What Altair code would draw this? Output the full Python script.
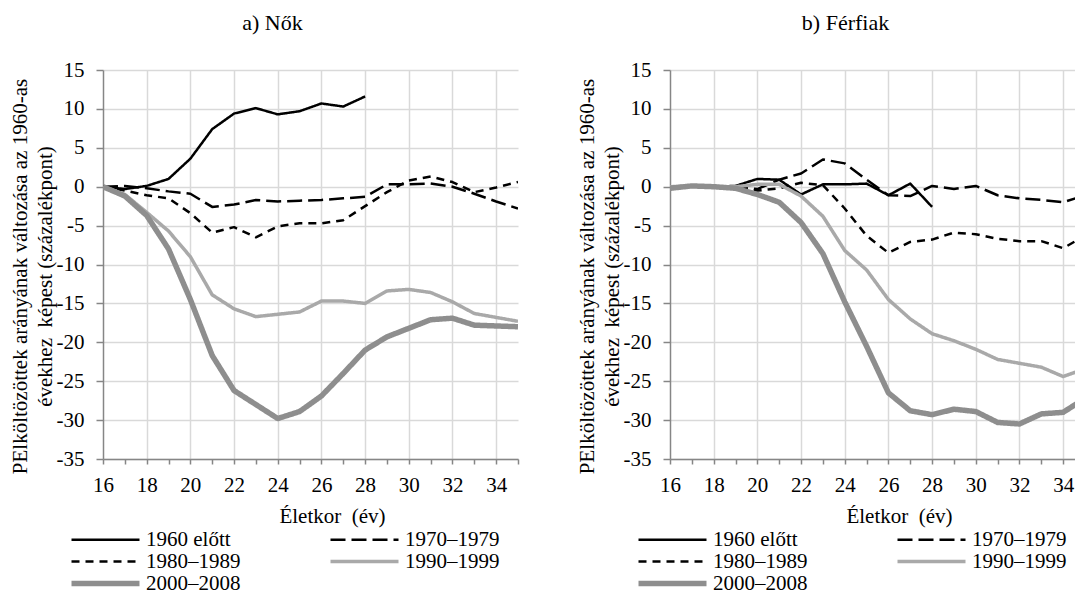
import altair as alt
import pandas as pd

FONT = "Liberation Serif, Times New Roman, DejaVu Serif, serif"

ages = list(range(16, 36))
series = ["1960 előtt", "1970–1979", "1980–1989", "1990–1999", "2000–2008"]
colors = ["#000000", "#000000", "#000000", "#a9a9a9", "#8e8e8e"]
dashes = [[1, 0], [15, 6], [8, 6], [1, 0], [1, 0]]
widths = [2.5, 2.5, 2.5, 3.5, 5.5]

# a) Nők
w1960 = [0, -0.3, 0.1, 1.0, 3.6, 7.4, 9.4, 10.1, 9.3, 9.7, 10.7, 10.3, 11.6,
         None, None, None, None, None, None, None]
w1970 = [0, 0.1, -0.2, -0.6, -0.9, -2.6, -2.3, -1.7, -1.9, -1.8, -1.7, -1.5, -1.3,
         0.3, 0.3, 0.4, 0.0, -0.9, -1.9, -2.8]
w1980 = [0, -0.5, -1.1, -1.5, -3.4, -5.9, -5.2, -6.5, -5.1, -4.7, -4.7, -4.3, -2.5,
         -0.7, 0.8, 1.3, 0.6, -0.7, -0.1, 0.6]
w1990 = [0, -1.0, -3.3, -5.7, -9.0, -13.9, -15.7, -16.7, -16.4, -16.1, -14.7, -14.7,
         -15.0, -13.4, -13.2, -13.6, -14.8, -16.3, -16.8, -17.3]
w2000 = [0, -1.2, -3.7, -8.0, -14.5, -21.7, -26.2, -28.0, -29.8, -28.9, -26.9, -24.0,
         -21.0, -19.3, -18.2, -17.1, -16.9, -17.8, -17.9, -18.0]

# b) Férfiak
m1960 = [0, 0, 0, 0.1, 1.0, 0.9, -1.0, 0.3, 0.3, 0.4, -1.1, 0.4, -2.6,
         None, None, None, None, None, None, None]
m1970 = [0, 0.1, 0, 0, -0.3, 0.9, 1.7, 3.5, 3.0, 0.9, -1.1, -1.2, 0.1,
         -0.3, 0.1, -1.1, -1.5, -1.7, -2.0, -1.1]
m1980 = [0, 0, 0, 0, -0.5, -0.2, 0.5, 0.2, -2.8, -6.3, -8.5, -7.1, -6.8,
         -5.9, -6.1, -6.7, -7.0, -7.0, -7.9, -6.3]
m1990 = [0, 0.1, 0, 0, 0.3, 0.3, -1.2, -3.8, -8.2, -10.7, -14.5, -17.0, -18.9,
         -19.8, -20.9, -22.2, -22.7, -23.2, -24.4, -23.4]
m2000 = [-0.2, 0.1, 0, -0.2, -1.0, -2.0, -4.6, -8.6, -14.8, -20.5, -26.5, -28.8,
         -29.3, -28.6, -28.9, -30.3, -30.5, -29.2, -29.0, -27.2]

x_ticks = list(range(16, 36))
y_ticks = list(range(-35, 20, 5))

y_title = ["PElköltözöttek arányának változása az 1960-as",
           "évekhez\u00a0 képest (százalékpont)" + "\u00a0" * 20]
x_title = "Életkor\u00a0 (év)"


def make_df(cols):
    rows = []
    for name, vals, w in zip(series, cols, widths):
        for a, v in zip(ages, vals):
            if v is not None:
                rows.append({"age": a, "value": v, "series": name, "w": w})
    return pd.DataFrame(rows)


def panel(title, cols, dx):
    df = make_df(cols)
    legend = alt.Legend(
        title=None, orient="none", legendX=-8, legendY=459, columns=2,
        direction="horizontal",
        symbolType="stroke", symbolSize=4624, labelOffset=30,
        columnPadding=82, rowPadding=0, padding=0,
        labelFont=FONT, labelFontSize=21, labelColor="#000000",
        symbolStrokeWidth={"expr": "datum.value == '2000–2008' ? 5.5 : (datum.value == '1990–1999' ? 3.5 : 2.5)"},
    )
    even_grid = "datum.value % 2 == 0 && datum.value > 16 && datum.value < 35"
    return alt.Chart(df).mark_line(strokeJoin="round", clip=True).encode(
        x=alt.X("age:Q",
                scale=alt.Scale(domain=[16, 35], nice=False, zero=False),
                axis=alt.Axis(values=x_ticks, title=x_title, titleX=229,
                              labelExpr="datum.value % 2 == 0 && datum.value < 35 ? '' + datum.value : ''",
                              grid=True,
                              gridColor={"condition": {"test": even_grid, "value": "#d9d9d9"},
                                         "value": "rgba(0,0,0,0)"},
                              tickSize=5, labelPadding=10, titlePadding=10,
                              labelFlush=False, labelOverlap=False)),
        y=alt.Y("value:Q",
                scale=alt.Scale(domain=[-35, 15], nice=False, zero=False),
                axis=alt.Axis(values=y_ticks, title=y_title, titleAngle=270,
                              titleX=-94, titleY=206, titleAlign="center",
                              titleBaseline="top", titleLineHeight=25,
                              labelExpr="'' + datum.value",
                              grid=True, gridColor="#d9d9d9",
                              tickSize=7, labelPadding=12, labelFlush=False)),
        color=alt.Color("series:N", scale=alt.Scale(domain=series, range=colors), legend=legend),
        strokeDash=alt.StrokeDash("series:N", scale=alt.Scale(domain=series, range=dashes), legend=legend),
        strokeWidth=alt.StrokeWidth("w:Q", scale=None, legend=None),
    ).properties(
        width=415, height=389,
        title=alt.TitleParams(title, font=FONT, fontSize=22, fontWeight="normal",
                              color="#000000", anchor="middle", dx=dx, offset=24),
    )


left = panel("a) Nők", [w1960, w1970, w1980, w1990, w2000], -38)
right = panel("b) Férfiak", [m1960, m1970, m1980, m1990, m2000], -32)

# the right panel runs past the page edge in the original; the negative right
# padding crops it there instead of widening the page
chart = alt.hconcat(left, right, spacing=56).resolve_legend(
    color="independent", strokeDash="independent"
).resolve_scale(color="independent", strokeDash="independent").properties(
    padding={"top": 4, "left": 0, "right": -11, "bottom": 0}
).configure_view(stroke=None).configure_axis(
    labelFont=FONT, titleFont=FONT, labelFontSize=21, titleFontSize=21,
    labelColor="#000000", titleColor="#000000", titleFontWeight="normal",
    domainColor="#868686", tickColor="#868686", domainWidth=1.5, tickWidth=1.5,
    gridWidth=1.5,
)

chart.save("out.html", embed_options={"renderer": "svg", "actions": False})
